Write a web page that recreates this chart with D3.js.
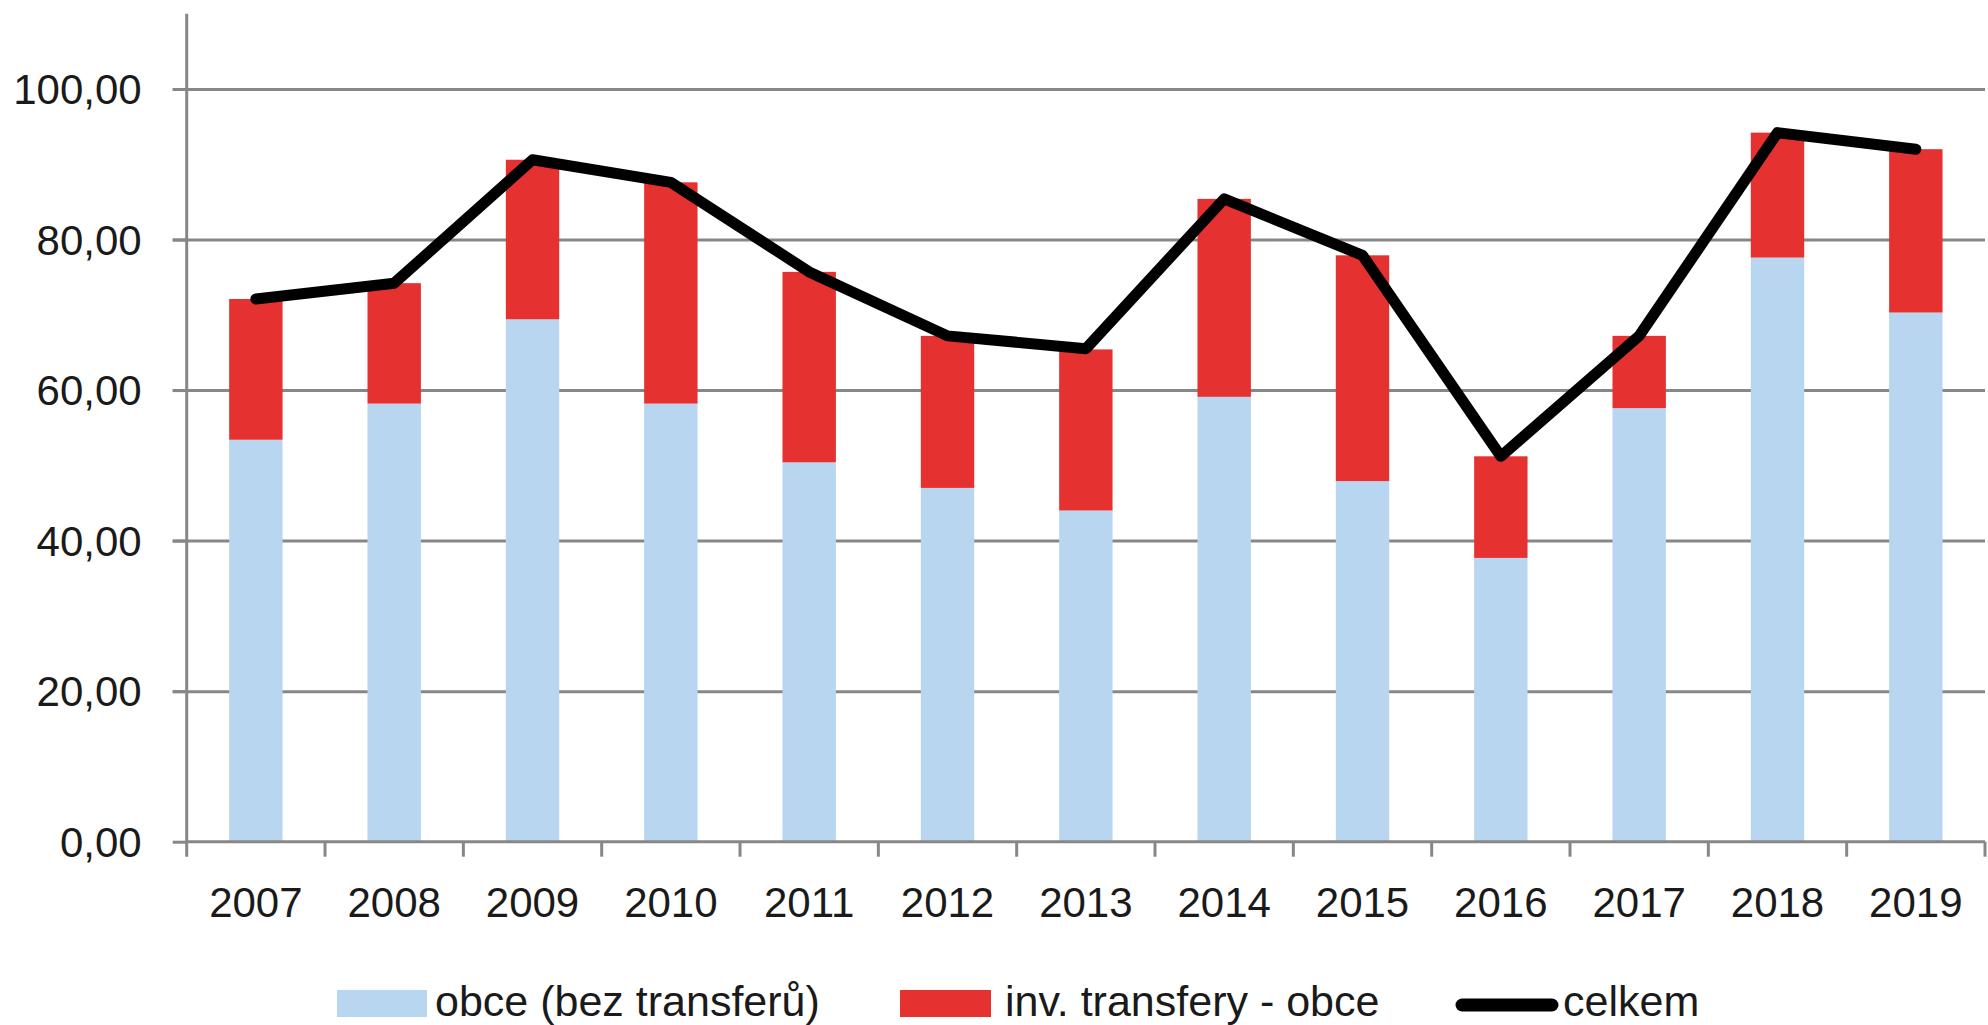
<!DOCTYPE html>
<html>
<head>
<meta charset="utf-8">
<script src="https://cdn.jsdelivr.net/npm/d3@7"></script>
<style>
    body { margin: 0; background: #fff; }
    text { font-family: "Liberation Sans", Arial, sans-serif; fill: #1a1a1a; }
</style>
</head>
<body>
<svg id="chart" width="1988" height="1025"></svg>
<script>
// values
var years = ["2007", "2008", "2009", "2010", "2011", "2012", "2013", "2014", "2015", "2016", "2017", "2018", "2019"];
var obce = [53.4, 58.2, 69.4, 58.2, 50.4, 47.0, 44.0, 59.1, 47.9, 37.7, 57.6, 77.6, 70.3];
var transfery = [18.7, 16.0, 21.2, 29.4, 25.3, 20.2, 21.4, 26.3, 30.0, 13.5, 9.6, 16.6, 21.7];
var celkem = [72.1, 74.2, 90.6, 87.6, 75.7, 67.2, 65.5, 85.4, 77.9, 51.2, 67.2, 94.2, 92.0];
var yTicks = [0, 20, 40, 60, 80, 100];
var seriesNames = ["obce (bez transferů)", "inv. transfery - obce", "celkem"];

var blue = "#b8d6f0", red = "#e53130", grey = "#878787";

var svg = d3.select("#chart");
// plot area edges (note: "top" is taken by window.top)
var plotLeft = 186.7, plotRight = 1985, plotTop = 13.7, plotBottom = 841.7;

var x = d3.scaleBand().domain(years).range([plotLeft, plotRight]).padding(0);
var y = d3.scaleLinear().domain([0, 110]).range([plotBottom, plotTop]);
var barW = x.bandwidth() * 0.386;

// gridlines (drawn first so bars cover them)
svg.append("g")
    .attr("transform", "translate(" + plotRight + ",0)")
    .call(d3.axisLeft(y).tickValues(yTicks.slice(1)).tickSize(plotRight - plotLeft + 14).tickFormat(""))
    .call(function(g){ g.select(".domain").remove(); })
    .selectAll("line").attr("stroke", grey).attr("stroke-width", 3);

// stacked bars
var rows = years.map(function(d, i){ return {year: d, obce: obce[i], transfery: transfery[i]}; });
var stack = d3.stack().keys(["obce", "transfery"])(rows);
var colors = [blue, red];

svg.append("g").selectAll("g")
    .data(stack).join("g")
    .attr("fill", function(d, i){ return colors[i]; })
    .selectAll("rect")
    .data(function(d){ return d; }).join("rect")
    .attr("x", function(d){ return x(d.data.year) + (x.bandwidth() - barW) / 2; })
    .attr("width", barW)
    .attr("y", function(d){ return y(d[1]); })
    .attr("height", function(d){ return y(d[0]) - y(d[1]); });

// y axis
var yAxis = svg.append("g")
    .attr("transform", "translate(" + plotLeft + ",0)")
    .call(d3.axisLeft(y).tickValues(yTicks).tickSize(14).tickPadding(31)
        .tickFormat(function(d){ return d3.format(".2f")(d).replace(".", ","); }));
yAxis.select(".domain").attr("stroke", grey).attr("stroke-width", 3).attr("d", "M0," + plotTop + "V" + (plotBottom + 15));
yAxis.selectAll("line").attr("stroke", grey).attr("stroke-width", 3);
yAxis.selectAll("text").attr("font-size", 42).attr("dy", "0.35em")
    .style("font-family", "'Liberation Sans', Arial, sans-serif").attr("fill", "#1a1a1a");

// x axis: ticks between categories, labels centred
var xAxis = svg.append("g").attr("transform", "translate(0," + plotBottom + ")");
xAxis.append("line")
    .attr("x1", plotLeft).attr("x2", plotRight)
    .attr("stroke", grey).attr("stroke-width", 3);
xAxis.selectAll("line.tick")
    .data(years.slice(1).map(function(d){ return x(d); }).concat([plotRight]))
    .join("line").attr("class", "tick")
    .attr("x1", function(d){ return d; }).attr("x2", function(d){ return d; })
    .attr("y1", 0).attr("y2", 15)
    .attr("stroke", grey).attr("stroke-width", 3);
xAxis.selectAll("text")
    .data(years).join("text")
    .attr("x", function(d){ return x(d) + x.bandwidth() / 2; })
    .attr("y", 75)
    .attr("text-anchor", "middle")
    .attr("font-size", 42)
    .text(function(d){ return d; });

// total line
var line = d3.line()
    .x(function(d, i){ return x(years[i]) + x.bandwidth() / 2; })
    .y(function(d){ return y(d); });

svg.append("path")
    .datum(celkem)
    .attr("d", line)
    .attr("fill", "none")
    .attr("stroke", "#000")
    .attr("stroke-width", 11)
    .attr("stroke-linejoin", "round")
    .attr("stroke-linecap", "round");

// legend
var legend = svg.append("g").attr("font-size", 43);
legend.append("rect").attr("x", 337).attr("y", 990).attr("width", 90).attr("height", 27).attr("fill", blue);
legend.append("text").attr("x", 435).attr("y", 1016).text(seriesNames[0]);
legend.append("rect").attr("x", 900).attr("y", 990).attr("width", 91).attr("height", 27).attr("fill", red);
legend.append("text").attr("x", 1005).attr("y", 1016).text(seriesNames[1]);
legend.append("line").attr("x1", 1462).attr("x2", 1552).attr("y1", 1005).attr("y2", 1005)
    .attr("stroke", "#000").attr("stroke-width", 13).attr("stroke-linecap", "round");
legend.append("text").attr("x", 1563).attr("y", 1016).text(seriesNames[2]);
</script>
</body>
</html>
